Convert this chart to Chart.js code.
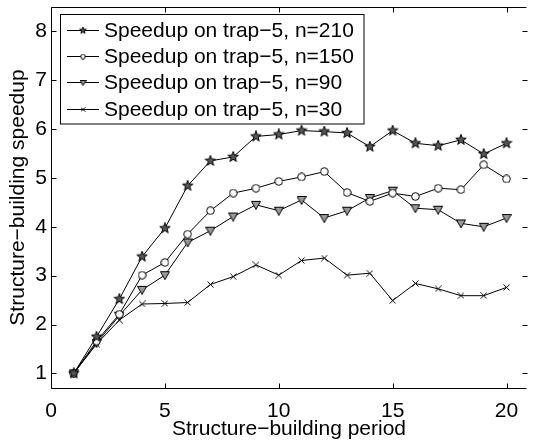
<!DOCTYPE html>
<html>
<head>
<meta charset="utf-8">
<script src="https://cdn.jsdelivr.net/npm/chart.js@4.4.0/dist/chart.umd.min.js"></script>
<style>
  html, body { margin: 0; padding: 0; background: #fff; }
</style>
</head>
<body>
<canvas id="chart" width="533" height="442"></canvas>
<script>
// data
const periods = [1, 2, 3, 4, 5, 6, 7, 8, 9, 10, 11, 12, 13, 14, 15, 16, 17, 18, 19, 20];
const speedup210 = [1.0, 1.75, 2.52, 3.39, 3.97, 4.84, 5.35, 5.43, 5.85, 5.89, 5.97, 5.95, 5.92, 5.64, 5.97, 5.71, 5.66, 5.78, 5.49, 5.71];
const speedup150 = [1.0, 1.66, 2.21, 3.01, 3.27, 3.85, 4.33, 4.69, 4.79, 4.93, 5.02, 5.13, 4.70, 4.52, 4.69, 4.62, 4.79, 4.76, 5.27, 4.98];
const speedup90 = [1.0, 1.62, 2.18, 2.71, 3.01, 3.68, 3.92, 4.21, 4.45, 4.33, 4.55, 4.18, 4.33, 4.59, 4.74, 4.38, 4.35, 4.07, 4.00, 4.18];
const speedup30 = [1.0, 1.60, 2.09, 2.42, 2.43, 2.45, 2.82, 2.98, 3.22, 3.01, 3.31, 3.36, 3.01, 3.05, 2.49, 2.84, 2.73, 2.59, 2.59, 2.76];
const seriesLabels = ["Speedup on trap\u22125, n=210", "Speedup on trap\u22125, n=150", "Speedup on trap\u22125, n=90", "Speedup on trap\u22125, n=30"];
const xTicks = [0, 5, 10, 15, 20];
const yTicks = [1, 2, 3, 4, 5, 6, 7, 8];

const FONT = "'Liberation Sans', Arial, Helvetica, sans-serif";
Chart.defaults.font.family = FONT;
Chart.defaults.font.size = 21;
Chart.defaults.color = "#000";

// marker images (matlab style: pentagram, circle, down triangle, x)
function makeMarker(kind, scale) {
  const sizes = { star: 12, circle: 9, tri: 10, cross: 7 };
  const size = Math.round(sizes[kind] * scale);
  const c = document.createElement("canvas");
  c.width = c.height = size;
  const g = c.getContext("2d");
  const m = size / 2;
  g.strokeStyle = "#000";
  g.lineWidth = 1;
  g.beginPath();
  if (kind === "star") {
    for (let i = 0; i < 10; i++) {
      const a = -Math.PI / 2 + i * Math.PI / 5;
      const r = i % 2 ? (m - 0.5) * 0.42 : m - 0.5;
      const px = m + r * Math.cos(a), py = m + r * Math.sin(a);
      i ? g.lineTo(px, py) : g.moveTo(px, py);
    }
    g.closePath();
    g.fillStyle = "#555";
    g.fill();
    g.stroke();
  } else if (kind === "circle") {
    g.arc(m, m, m - 0.7, 0, Math.PI * 2);
    g.fillStyle = "#fff";
    g.fill();
    g.stroke();
  } else if (kind === "tri") {
    g.moveTo(0.5, 1.5);
    g.lineTo(size - 0.5, 1.5);
    g.lineTo(m, size - 0.5);
    g.closePath();
    g.fillStyle = "#999";
    g.fill();
    g.stroke();
  } else {
    g.moveTo(0.5, 0.5); g.lineTo(size - 0.5, size - 0.5);
    g.moveTo(size - 0.5, 0.5); g.lineTo(0.5, size - 0.5);
    g.stroke();
  }
  return c;
}

const markerKinds = ["star", "circle", "tri", "cross"];
const markers = markerKinds.map((k) => makeMarker(k, 1));
const legendMarkers = markerKinds.map((k) => makeMarker(k, 0.7));
const allSeries = [speedup210, speedup150, speedup90, speedup30];

const datasets = allSeries.map((vals, i) => ({
  label: seriesLabels[i],
  data: periods.map((p, j) => ({ x: p, y: vals[j] })),
  borderColor: "#000",
  borderWidth: 1,
  pointStyle: markers[i],
  pointRadius: 5,
  pointHoverRadius: 5,
  tension: 0,
  fill: false,
}));

// axes box, inward ticks and the legend box
const frame = {
  id: "frame",
  afterDraw(chart) {
    const ctx = chart.ctx;
    const a = chart.chartArea;
    const xs = chart.scales.x, ys = chart.scales.y;
    const L = Math.round(a.left) + 0.5, R = Math.round(a.right) - 0.5;
    const T = Math.round(a.top) + 0.5, B = Math.round(a.bottom) + 0.5;
    ctx.save();
    ctx.strokeStyle = "#000";
    ctx.lineWidth = 1;
    ctx.beginPath();
    ctx.moveTo(R, T); ctx.lineTo(L, T); ctx.lineTo(L, B); ctx.lineTo(R, B);
    xTicks.forEach((v) => {
      const px = Math.round(xs.getPixelForValue(v)) + 0.5;
      ctx.moveTo(px, B); ctx.lineTo(px, B - 5);
      ctx.moveTo(px, T); ctx.lineTo(px, T + 5);
    });
    yTicks.forEach((v) => {
      const py = Math.round(ys.getPixelForValue(v)) + 0.5;
      ctx.moveTo(L, py); ctx.lineTo(L + 5, py);
      ctx.moveTo(R + 1, py); ctx.lineTo(R - 4, py);
    });
    ctx.stroke();

    // legend
    ctx.fillStyle = "#fff";
    ctx.fillRect(60.5, 14.5, 303.5, 109.5);
    ctx.strokeRect(60.5, 14.5, 303.5, 109.5);
    ctx.font = "21px " + FONT;
    ctx.textBaseline = "middle";
    ctx.textAlign = "left";
    ctx.fillStyle = "#000";
    seriesLabels.forEach((lab, i) => {
      const y = Math.round(30 + i * 26.2) + 0.5;
      ctx.beginPath();
      ctx.moveTo(67, y); ctx.lineTo(99, y);
      ctx.stroke();
      const mk = legendMarkers[i];
      ctx.drawImage(mk, 83 - mk.width / 2, y - mk.height / 2);
      ctx.fillText(lab, 104, y + 1);
    });
    ctx.restore();
  },
};

new Chart(document.getElementById("chart"), {
  type: "line",
  data: { datasets },
  options: {
    responsive: false,
    animation: false,
    layout: { padding: { top: 7, right: 0, left: 0, bottom: 0 } },
    plugins: { legend: { display: false }, tooltip: { enabled: false } },
    scales: {
      x: {
        type: "linear",
        min: 0,
        max: 20.9,
        grid: { display: false, drawTicks: false },
        border: { display: false },
        ticks: { padding: 11, maxRotation: 0 },
        afterBuildTicks: (s) => { s.ticks = xTicks.map((v) => ({ value: v })); },
        afterFit: (s) => { s.height = 54; s.paddingLeft = 0; s.paddingRight = 0; },
        title: { display: true, text: "Structure\u2212building period", padding: { top: 0, bottom: 0 } },
      },
      y: {
        min: 0.7,
        max: 8.5,
        grid: { display: false, drawTicks: false },
        border: { display: false },
        ticks: { padding: 4 },
        afterBuildTicks: (s) => { s.ticks = yTicks.map((v) => ({ value: v })); },
        afterFit: (s) => { s.width = 51; s.paddingTop = 0; s.paddingBottom = 0; },
        title: { display: true, text: "Structure\u2212building speedup", padding: { top: 6, bottom: 0 } },
      },
    },
  },
  plugins: [frame],
});
</script>
</body>
</html>
